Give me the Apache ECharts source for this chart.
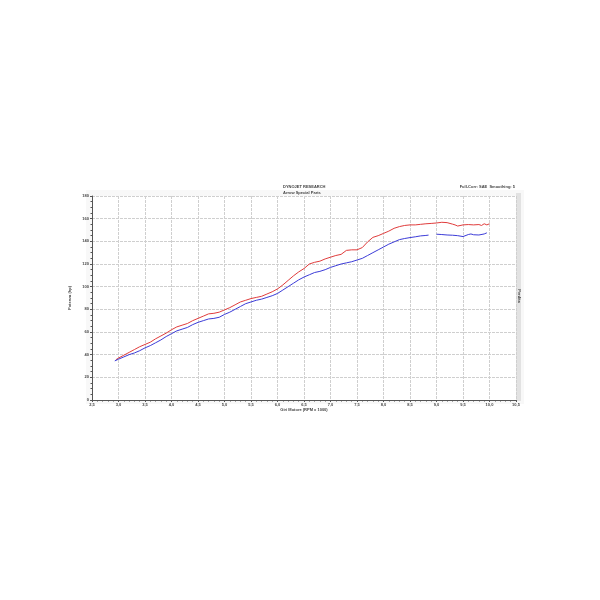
<!DOCTYPE html>
<html><head><meta charset="utf-8">
<script src="https://cdn.jsdelivr.net/npm/echarts@6/dist/echarts.min.js"></script>
<style>html,body{margin:0;padding:0;background:#fff}#c{width:600px;height:600px}</style>
</head><body><div id="c"></div>
<script>
const rpmRed = [2.95,3.0,3.1,3.2,3.3,3.4,3.5,3.6,3.7,3.8,3.9,4.0,4.1,4.2,4.3,4.4,4.5,4.6,4.7,4.8,4.9,5.0,5.1,5.2,5.3,5.4,5.5,5.6,5.7,5.8,5.9,6.0,6.1,6.2,6.3,6.4,6.5,6.6,6.7,6.8,6.9,7.0,7.1,7.2,7.3,7.4,7.5,7.6,7.7,7.8,7.9,8.0,8.1,8.2,8.3,8.4,8.5,8.6,8.7,8.8,8.9,9.0,9.1,9.2,9.3,9.35,9.4,9.5,9.6,9.7,9.8,9.85,9.9,9.95,10.0];
const hpRed = [35.5,37,39.5,42,44.5,47,49,51,54,56.5,59,62,64.5,66,67.5,70,72,74,76,76.5,77.5,79.5,81.5,84,86.5,88,89.5,90.5,91.5,93.5,95.5,98,101.5,105.5,109.5,113,116,120,121.5,122.5,124.5,126,127.5,128.5,132,132.5,132.5,134.5,139.5,143.5,145,147,149,151.5,153,154,154.5,154.5,155,155.5,155.8,156.2,156.8,156.5,155.2,154.5,153.5,154.5,154.8,154.5,154.8,154.0,155.5,154.5,155.5];
const rpmBlue = [2.93,3.0,3.1,3.2,3.3,3.4,3.5,3.6,3.7,3.8,3.9,4.0,4.1,4.2,4.3,4.4,4.5,4.6,4.7,4.8,4.9,5.0,5.1,5.2,5.3,5.4,5.5,5.6,5.7,5.8,5.9,6.0,6.1,6.2,6.3,6.4,6.5,6.6,6.7,6.8,6.9,7.0,7.1,7.2,7.3,7.4,7.5,7.6,7.7,7.8,7.9,8.0,8.1,8.2,8.3,8.4,8.5,8.6,8.7,8.8,8.85,8.9,9.0,9.1,9.2,9.3,9.4,9.5,9.6,9.65,9.7,9.8,9.9,9.95];
const hpBlue = [34.5,36,38,40,41.5,43.5,46,48,50.5,53,56,58.5,61,62.5,64,66.5,68.5,70,71.5,72,73,75.5,77.5,80,82.5,85,86.5,88,89,90.5,92,94,97,100,103,106,108.5,110.5,112.5,113.5,115,117,118.5,120,121,122,123.5,125,127.5,130,132.5,135,137.5,139.5,141.5,142.5,143.3,144,144.8,145.2,145.5,null,146.3,146,145.6,145.4,145,144.2,146,146.5,145.8,145.6,146.5,147.5];
const titleLines = ['DYNOJET RESEARCH','Arrow Special Parts'];
const corrText = 'Full-Corr: SAE  Smoothing: 5';
const xName = 'Giri Motore (RPM x 1000)';
const yName = 'Potenza (hp)';
const y2Name = 'Perdita';

const chart = echarts.init(document.getElementById('c'));
const pair = (xs, ys) => xs.map((x, i) => [x, ys[i]]);
const fontBase = {fontFamily: 'Liberation Sans', fontSize: 4, color: '#444', fontWeight: 'bold'};
chart.setOption({
  backgroundColor: '#fff',
  animation: false,
  graphic: [
    {type: 'rect', shape: {x: 86, y: 190, width: 438, height: 214}, style: {fill: '#f8f8f8'}, z: -10},
    {type: 'rect', shape: {x: 516, y: 193, width: 5, height: 208}, style: {fill: '#e2e2e2'}, z: -9},
    {type: 'rect', shape: {x: 92, y: 196, width: 424, height: 204}, style: {fill: '#fff'}, z: -8},
    {type: 'text', left: 283, top: 184, style: Object.assign({}, fontBase, {text: titleLines.join('\n'), lineHeight: 6, fill: '#444'})},
    {type: 'text', right: 85, top: 185, style: Object.assign({}, fontBase, {text: corrText, fill: '#444'})},
    {type: 'text', x: 521, y: 296, rotation: -Math.PI / 2, style: Object.assign({}, fontBase, {text: y2Name, fill: '#444', align: 'center'})}
  ],
  grid: {left: 92, right: 84, top: 196, bottom: 200, show: false},
  xAxis: {
    type: 'value', min: 2.5, max: 10.5, interval: 0.5,
    name: xName, nameLocation: 'middle', nameGap: 8,
    nameTextStyle: Object.assign({}, fontBase),
    axisLine: {onZero: false, lineStyle: {color: '#555', width: 1}},
    axisTick: {show: true, length: 2, lineStyle: {color: '#555'}},
    minorTick: {show: true, splitNumber: 5, length: 1.5, lineStyle: {color: '#555'}},
    axisLabel: Object.assign({}, fontBase, {margin: 3, formatter: v => v.toFixed(1).replace('.', ',')}),
    splitLine: {show: true, lineStyle: {color: '#cfcfcf', width: 1, type: [3, 1]}}
  },
  yAxis: {
    type: 'value', min: 0, max: 180, interval: 20,
    name: yName, nameLocation: 'middle', nameGap: 11, nameRotate: 90,
    nameTextStyle: Object.assign({}, fontBase),
    axisLine: {show: true, lineStyle: {color: '#555', width: 1}},
    axisTick: {show: true, length: 2, lineStyle: {color: '#555'}},
    minorTick: {show: true, splitNumber: 4, length: 1.5, lineStyle: {color: '#555'}},
    axisLabel: Object.assign({}, fontBase, {margin: 3}),
    splitLine: {show: true, lineStyle: {color: '#cfcfcf', width: 1, type: [3, 1]}}
  },
  series: [
    {type: 'line', data: pair(rpmRed, hpRed), showSymbol: false, lineStyle: {color: '#e03c3c', width: 1}, z: 3},
    {type: 'line', data: pair(rpmBlue, hpBlue), showSymbol: false, connectNulls: false, lineStyle: {color: '#3c3cd8', width: 1}, z: 4}
  ]
});
</script></body></html>
